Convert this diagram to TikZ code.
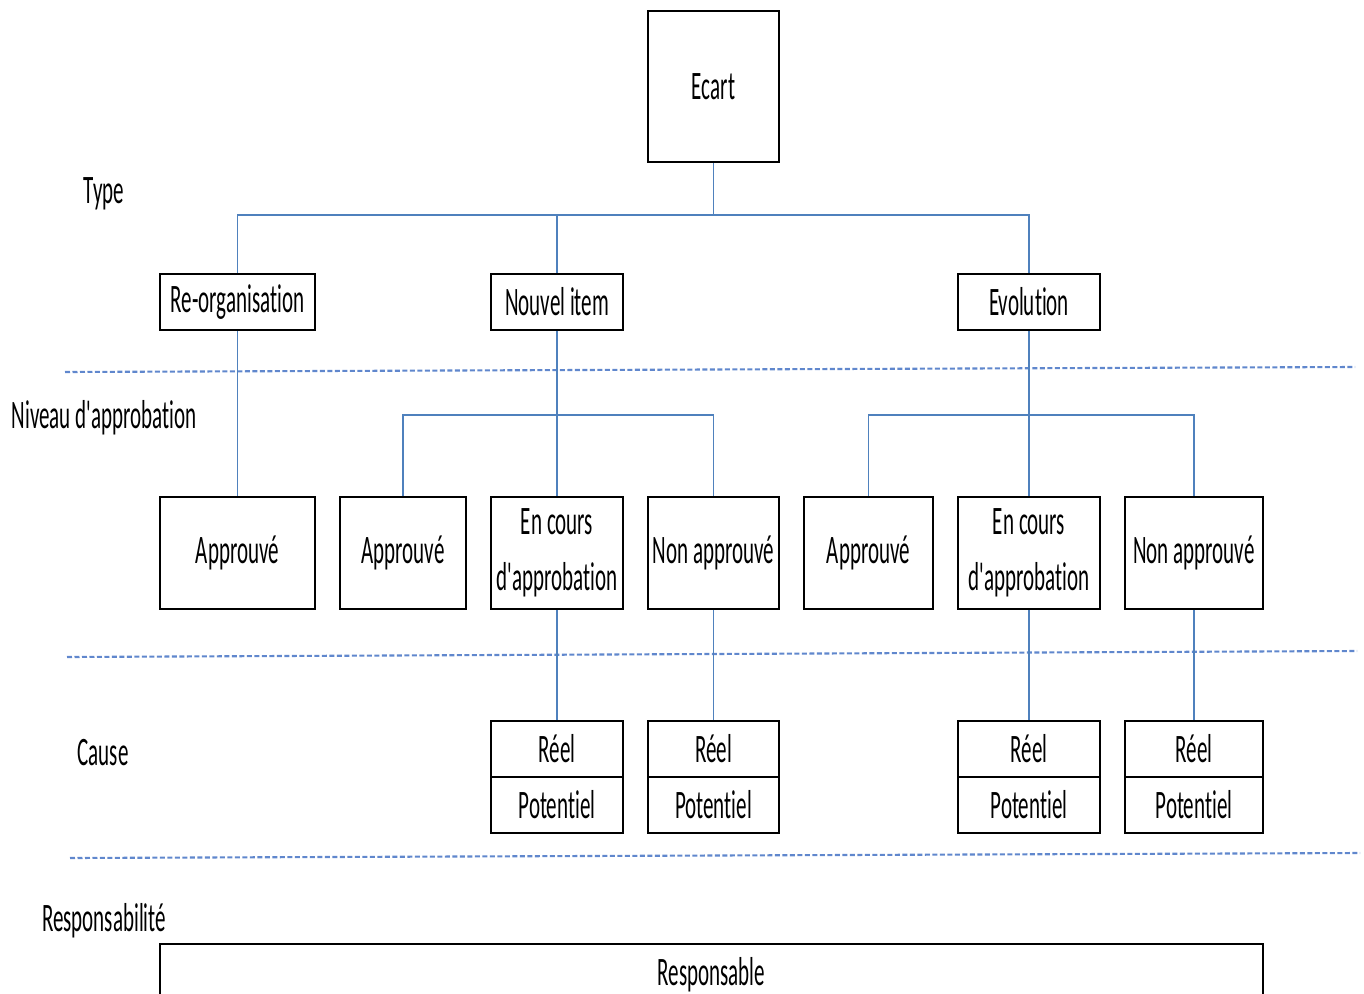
\documentclass[tikz,border=0pt]{standalone}
\usepackage{fontspec}
\setmainfont{Carlito}[FakeStretch=0.52,Ligatures={TeXOff,NoCommon}]
\usepackage{tikz}
\usetikzlibrary{calc}
\definecolor{linkblue}{HTML}{4F81BD}
\definecolor{sepblue}{HTML}{4472C4}

\begin{document}
\begin{tikzpicture}[x=0.02cm,y=-0.02cm,
  box/.style={draw=black, line width=1.1pt, inner sep=0pt, align=center, font=\fontsize{23}{32}\selectfont},
  link/.style={draw=linkblue, line width=0.9pt},
  sep/.style={draw=sepblue!85, line width=1.2pt, dash pattern=on 0.1cm off 0.05cm},
  lbl/.style={inner sep=0pt, font=\fontsize{23}{32}\selectfont}]
\useasboundingbox (0,0) rectangle (1364,993);
% levels
\node[lbl] (ltype) at (104,194) {Type};
\node[lbl] (lniveau) at (104,418) {Niveau d'approbation};
\node[lbl] (lcause) at (103,753) {Cause};
\node[lbl] (lresp) at (104,921) {Responsabilité};
\coordinate (sepa1) at (65,372);
\coordinate (sepa2) at (1355,367);
\coordinate (sepb1) at (67,657);
\coordinate (sepb2) at (1357,651);
\coordinate (sepc1) at (70,858);
\coordinate (sepc2) at (1360,853);
\draw[sep] (sepa1) -- (sepa2);
\draw[sep] (sepb1) -- (sepb2);
\draw[sep] (sepc1) -- (sepc2);
% type
\node[box, minimum width=2.62cm, minimum height=3.02cm] (ecart) at (713.5,86.5) {Ecart};
\node[box, minimum width=3.1cm, minimum height=1.12cm] (reorg) at (237.5,302) {Re-organisation};
\node[box, minimum width=2.64cm, minimum height=1.12cm] (nouvel) at (557,302) {Nouvel item};
\node[box, minimum width=2.84cm, minimum height=1.12cm] (evol) at (1029,302) {Evolution};
% niveau d'approbation
\node[box, minimum width=3.1cm, minimum height=2.24cm] (appra) at (237.5,553) {Approuvé};
\node[box, minimum width=2.52cm, minimum height=2.24cm] (apprb) at (403,553) {Approuvé};
\node[box, minimum width=2.64cm, minimum height=2.24cm] (coursa) at (557,553) {En cours\\d'approbation};
\node[box, minimum width=2.62cm, minimum height=2.24cm] (nona) at (713.5,553) {Non approuvé};
\node[box, minimum width=2.58cm, minimum height=2.24cm] (apprc) at (868.5,553) {Approuvé};
\node[box, minimum width=2.84cm, minimum height=2.24cm] (coursb) at (1029,553) {En cours\\d'approbation};
\node[box, minimum width=2.76cm, minimum height=2.24cm] (nonb) at (1194,553) {Non approuvé};
% cause
\node[box, minimum width=2.64cm, minimum height=1.12cm] (reela) at (557,749) {Réel};
\node[box, minimum width=2.64cm, minimum height=1.12cm] (pota) at (557,805) {Potentiel};
\node[box, minimum width=2.62cm, minimum height=1.12cm] (reelb) at (713.5,749) {Réel};
\node[box, minimum width=2.62cm, minimum height=1.12cm] (potb) at (713.5,805) {Potentiel};
\node[box, minimum width=2.84cm, minimum height=1.12cm] (reelc) at (1029,749) {Réel};
\node[box, minimum width=2.84cm, minimum height=1.12cm] (potc) at (1029,805) {Potentiel};
\node[box, minimum width=2.76cm, minimum height=1.12cm] (reeld) at (1194,749) {Réel};
\node[box, minimum width=2.76cm, minimum height=1.12cm] (potd) at (1194,805) {Potentiel};
% responsabilite
\node[box, minimum width=22.06cm, minimum height=1.24cm] (resp) at (711.5,975) {Responsable};
% connectors
\coordinate (typebar) at (0,215);
\coordinate (nivbar) at (0,415);
\draw[link] (ecart.south) -- (ecart.south |- typebar);
\draw[link] (reorg.north) -- (reorg.north |- typebar) -- (evol.north |- typebar) -- (evol.north);
\draw[link] (nouvel.north) -- (nouvel.north |- typebar);
\draw[link] (reorg.south) -- (appra.north);
\draw[link] (nouvel.south) -- (coursa.north);
\draw[link] (apprb.north) |- (nona.north |- nivbar) -- (nona.north);
\draw[link] (evol.south) -- (coursb.north);
\draw[link] (apprc.north) |- (nonb.north |- nivbar) -- (nonb.north);
\draw[link] (coursa.south) -- (reela.north);
\draw[link] (nona.south) -- (reelb.north);
\draw[link] (coursb.south) -- (reelc.north);
\draw[link] (nonb.south) -- (reeld.north);
\end{tikzpicture}
\end{document}
